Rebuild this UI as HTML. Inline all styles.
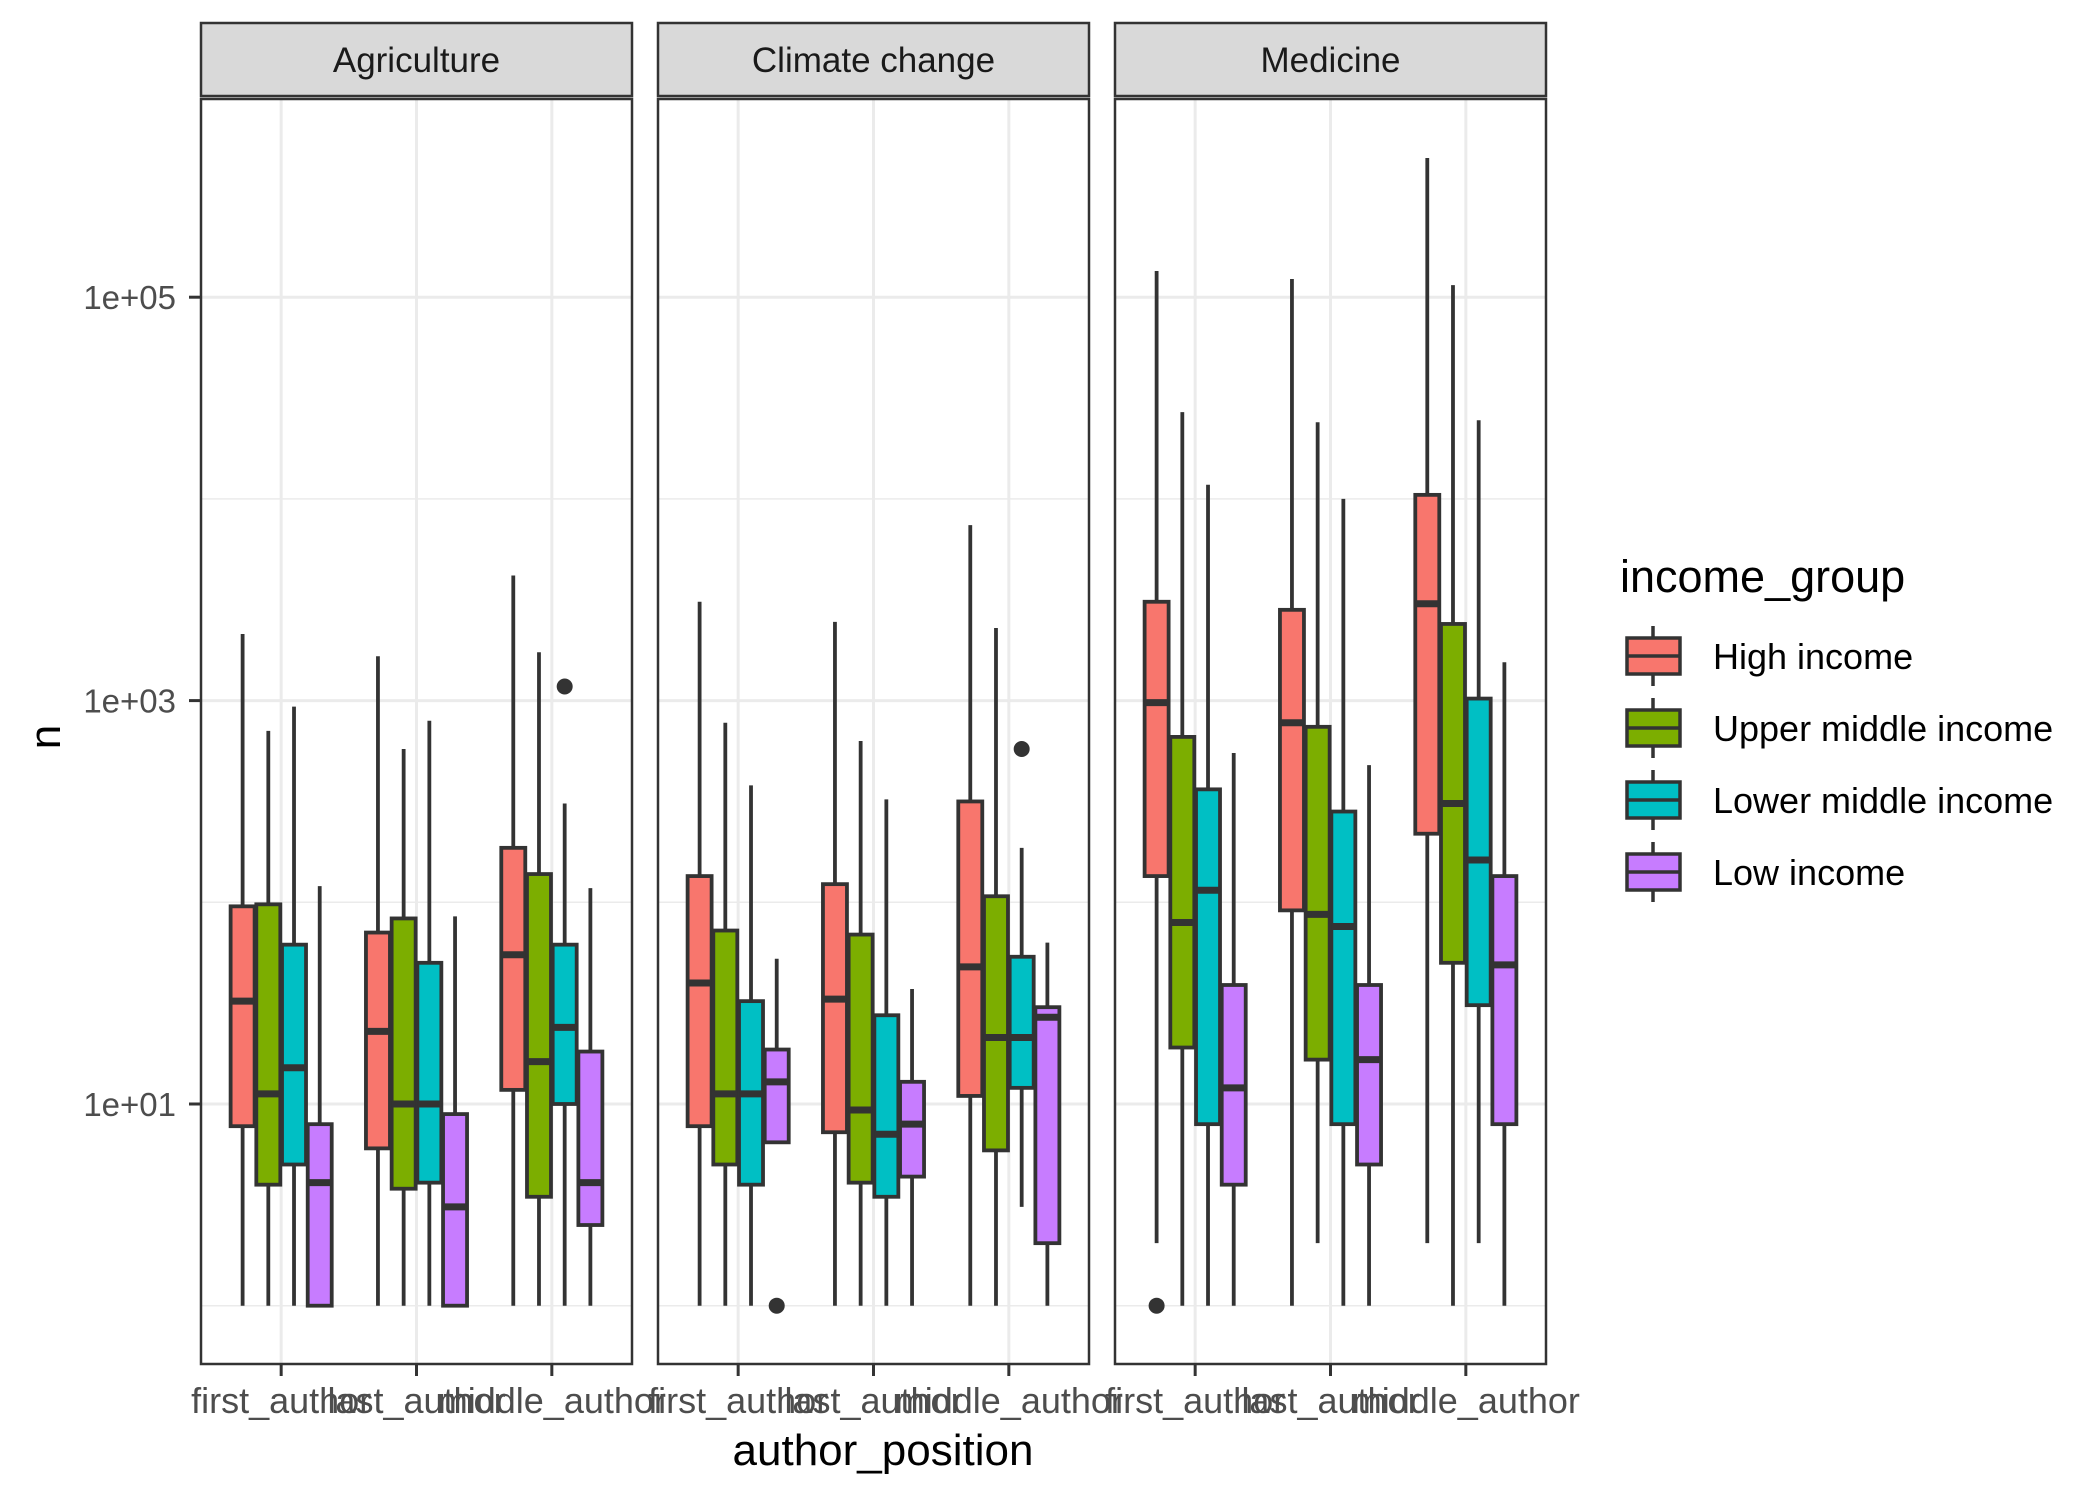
<!DOCTYPE html>
<html><head><meta charset="utf-8"><style>
body{margin:0;background:#fff}
svg{display:block;font-family:"Liberation Sans",sans-serif}
</style></head><body>
<svg id="chart" width="2100" height="1500" viewBox="0 0 2100 1500" xmlns="http://www.w3.org/2000/svg"></svg>
<script>
const facets = ["Agriculture","Climate change","Medicine"];
const positions = ["first_author","last_author","middle_author"];
const groups = ["High income","Upper middle income","Lower middle income","Low income"];
const colors = ["#F8766D","#7CAE00","#00BFC4","#C77CFF"];
const yTickLabels = ["1e+01","1e+03","1e+05"];
const yTickValues = [1,3,5];
// log10 stats per [facet][position][group]: [min, q1, median, q3, max]
const agriStats = [
 [[0,0.89,1.51,1.98,3.33],[0,0.6,1.05,1.99,2.85],[0,0.70,1.18,1.79,2.97],[0,0,0.61,0.90,2.08]],
 [[0,0.78,1.36,1.85,3.22],[0,0.58,1.0,1.92,2.76],[0,0.61,1.0,1.70,2.90],[0,0,0.49,0.95,1.93]],
 [[0,1.07,1.74,2.27,3.62],[0,0.54,1.21,2.14,3.24],[0,1.0,1.38,1.79,2.49],[0,0.40,0.61,1.26,2.07]]
];
const climateStats = [
 [[0,0.89,1.60,2.13,3.49],[0,0.70,1.05,1.86,2.89],[0,0.60,1.05,1.51,2.58],[0.81,0.81,1.11,1.27,1.72]],
 [[0,0.86,1.52,2.09,3.39],[0,0.61,0.97,1.84,2.80],[0,0.54,0.85,1.44,2.51],[0,0.64,0.90,1.11,1.57]],
 [[0,1.04,1.68,2.50,3.87],[0,0.77,1.33,2.03,3.36],[0.49,1.08,1.33,1.73,2.27],[0,0.31,1.43,1.48,1.80]]
];
const medicineStats = [
 [[0.31,2.13,2.99,3.49,5.13],[0,1.28,1.90,2.82,4.43],[0,0.90,2.06,2.56,4.07],[0,0.60,1.08,1.59,2.74]],
 [[0,1.96,2.89,3.45,5.09],[0.31,1.22,1.94,2.87,4.38],[0,0.90,1.88,2.45,4.00],[0,0.70,1.22,1.59,2.68]],
 [[0.31,2.34,3.48,4.02,5.69],[0,1.70,2.49,3.38,5.06],[0.31,1.49,2.21,3.01,4.39],[0,0.90,1.69,2.13,3.19]]
];
// outliers: [facetIndex, positionIndex, groupIndex, log10 value]
const outliers = [[0,2,2,3.07],[1,0,3,0],[1,2,2,2.76],[2,0,0,0]];

const NS="http://www.w3.org/2000/svg";
const svg=document.getElementById('chart');
function mk(tag,attrs,parent){const e=document.createElementNS(NS,tag);for(const k in attrs)e.setAttribute(k,attrs[k]);(parent||svg).appendChild(e);return e;}
const panelLefts=[201,658,1115], panelW=431, panelTop=99, panelBot=1364;
function y(v){return 1104-201.7*(v-1);}
function xCat(p,i){return panelLefts[p]+panelW*(0.186+0.314*i);}
const dodge=25.7, boxW=24;
const allStats=[agriStats,climateStats,medicineStats];

facets.forEach((f,p)=>{
  const L=panelLefts[p];
  const g=mk('g',{});
  
  
  const s=mk('rect',{x:L,y:23,width:panelW,height:73,fill:'#d9d9d9',stroke:'#333','stroke-width':2.5},g);
  
  
  const st=mk('text',{x:L+panelW/2,y:72,'text-anchor':'middle','font-size':35,fill:'#1a1a1a'},g);
  st.textContent=f;
  
  
  [0,2,4].forEach(v=>mk('line',{x1:L,x2:L+panelW,y1:y(v),y2:y(v),stroke:'#ebebeb','stroke-width':1.5},g));
  yTickValues.forEach(v=>mk('line',{x1:L,x2:L+panelW,y1:y(v),y2:y(v),stroke:'#ebebeb','stroke-width':3},g));
  positions.forEach((pos,i)=>mk('line',{x1:xCat(p,i),x2:xCat(p,i),y1:panelTop,y2:panelBot,stroke:'#ebebeb','stroke-width':3},g));
  positions.forEach((pos,i)=>{
    groups.forEach((gr,k)=>{
      const st=allStats[p][i][k];
      const cx=xCat(p,i)+(k-1.5)*dodge;
      const bg=mk('g',{},g);
      
      
      mk('line',{x1:cx,x2:cx,y1:y(st[0]),y2:y(st[4]),stroke:'#333','stroke-width':3.8},bg);
      mk('rect',{x:cx-boxW/2,y:y(st[3]),width:boxW,height:y(st[1])-y(st[3]),fill:colors[k],stroke:'#333','stroke-width':3.8},bg);
      mk('line',{x1:cx-boxW/2,x2:cx+boxW/2,y1:y(st[2]),y2:y(st[2]),stroke:'#333','stroke-width':7},bg);
    });
    mk('line',{x1:xCat(p,i),x2:xCat(p,i),y1:panelBot,y2:panelBot+12,stroke:'#333','stroke-width':3},g);
    const tx=mk('text',{x:xCat(p,i),y:1413,'text-anchor':'middle','font-size':36,fill:'#4d4d4d'},g);
    tx.textContent=pos;
    
    
  });
  const fr=mk('rect',{x:L,y:panelTop,width:panelW,height:panelBot-panelTop,fill:'none',stroke:'#333','stroke-width':2.5},g);
  
  
});
outliers.forEach(o=>{
  const c=mk('circle',{cx:xCat(o[0],o[1])+(o[2]-1.5)*dodge,cy:y(o[3]),r:8,fill:'#333'});
  
  
});
yTickValues.forEach((v,j)=>{
  mk('line',{x1:189,x2:201,y1:y(v),y2:y(v),stroke:'#333','stroke-width':3});
  const t=mk('text',{x:176,y:y(v)+12,'text-anchor':'end','font-size':33,fill:'#4d4d4d'});
  t.textContent=yTickLabels[j];
  
  
});
const yt=mk('text',{x:0,y:0,transform:'translate(60,737) rotate(-90)','text-anchor':'middle','font-size':44,fill:'#000'});
yt.textContent='n';


const xt=mk('text',{x:883,y:1465,'text-anchor':'middle','font-size':44,fill:'#000'});
xt.textContent='author_position';


const lt=mk('text',{x:1620,y:592,'font-size':45,fill:'#000'});
lt.textContent='income_group';


groups.forEach((gr,k)=>{
  const cy=656+72*k;
  const lg=mk('g',{});
  
  
  mk('line',{x1:1653,x2:1653,y1:cy-30,y2:cy+30,stroke:'#333','stroke-width':3.5},lg);
  mk('rect',{x:1627,y:cy-18,width:53,height:36,fill:colors[k],stroke:'#333','stroke-width':3.5},lg);
  mk('line',{x1:1627,x2:1680,y1:cy,y2:cy,stroke:'#333','stroke-width':3.5},lg);
  const t=mk('text',{x:1713,y:cy+13,'font-size':36,fill:'#000'},lg);
  t.textContent=gr;
});
</script>
</body></html>
